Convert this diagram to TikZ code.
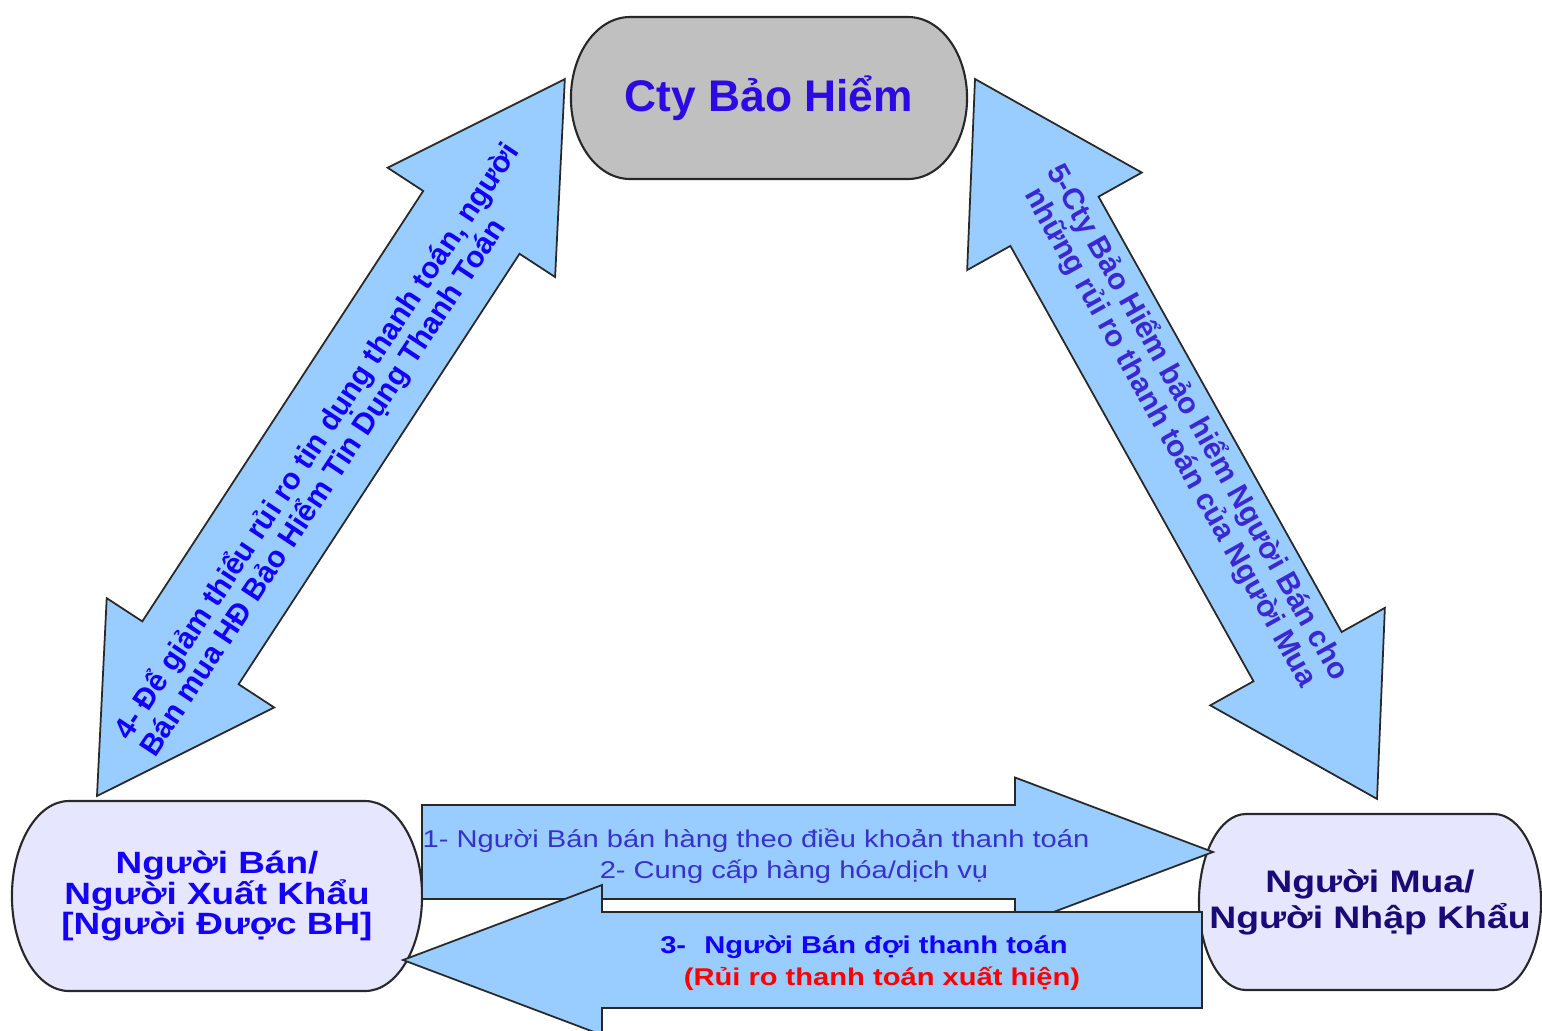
\documentclass[tikz,border=0pt]{standalone}
\usepackage{fontspec}
\setmainfont{Liberation Sans}
\newfontfamily\widesans{Liberation Sans}[FakeStretch=1.2]
\lineskiplimit=-30pt
\definecolor{arrowfill}{RGB}{153,204,255}
\definecolor{edgegray}{RGB}{40,40,40}
\definecolor{insurerfill}{RGB}{192,192,192}
\definecolor{partyfill}{RGB}{230,230,255}
\definecolor{inkviolet}{RGB}{45,10,225}
\definecolor{inkblue}{RGB}{20,0,250}
\definecolor{inknavy}{RGB}{25,10,120}
\definecolor{inkslate}{RGB}{55,50,205}
\definecolor{inkpurple}{RGB}{60,40,210}
\definecolor{inkred}{RGB}{255,0,0}

\begin{document}
\begin{tikzpicture}[x=0.01cm, y=-0.01cm,
	party/.style n args={4}{shape=rectangle, inner sep=0pt, align=center, fill=white, minimum width=#1, minimum height=#2,
		path picture={\draw[draw=edgegray, line width=0.6pt, fill=#4]
			([xshift=#3, yshift=-0.3pt]path picture bounding box.north west)
			-- ([xshift=-#3, yshift=-0.3pt]path picture bounding box.north east)
			arc[start angle=90, end angle=-90, x radius=#3-0.3pt, y radius=0.5*#2-0.3pt]
			-- ([xshift=#3, yshift=0.3pt]path picture bounding box.south west)
			arc[start angle=270, end angle=90, x radius=#3-0.3pt, y radius=0.5*#2-0.3pt]
			-- cycle;}}]
	\tikzstyle{flow} = [draw=edgegray, fill=arrowfill, line width=0.5pt]
	\tikzstyle{slant} = [font=\fontsize{8.5}{8.7}\selectfont\bfseries, align=center, inner sep=0pt]
	\tikzstyle{flat} = [font=\widesans\fontsize{6.9}{8}\selectfont, anchor=base, inner sep=0pt]
	\tikzstyle{flatbold} = [flat, font=\widesans\fontsize{6.9}{8}\selectfont\bfseries]
	\useasboundingbox (0,0) rectangle (1542,1030);
	\clip (0,0) rectangle (1542,1030);
	% the three parties
	\node[party={3.98cm}{1.64cm}{0.6cm}{insurerfill}, text=inkviolet, font=\fontsize{12.6}{15}\selectfont\bfseries] (insurer) at (769,98) {Cty Bảo Hiểm};
	\node[party={4.12cm}{1.92cm}{0.58cm}{partyfill}, text=inkblue, font=\widesans\fontsize{8.75}{8.8}\selectfont\bfseries] (seller) at (217,896) {Người Bán/\\Người Xuất Khẩu\\{}[Người Được BH]};
	\node[party={3.44cm}{1.78cm}{0.48cm}{partyfill}, text=inknavy, font=\widesans\fontsize{8.85}{10.2}\selectfont\bfseries] (buyer) at (1370,902) {Người Mua/\\Người Nhập Khẩu};
	% 4 and 5: slanted double arrows
	\coordinate (coverLow) at (97,796);
	\coordinate (coverTop) at (975,79);
	\begin{scope}[shift={(coverLow)}, rotate=56.87]
		\draw[flow] (0,0) -- (171,100) -- (171,57.5) -- (685,57.5) -- (685,100) -- (856,0) -- (685,-100) -- (685,-57.5) -- (171,-57.5) -- (171,-100) -- cycle;
	\end{scope}
	\begin{scope}[shift={(coverTop)}, rotate=-60.82]
		\draw[flow] (0,0) -- (163,100) -- (163,50.5) -- (661.6,50.5) -- (661.6,100) -- (824.6,0) -- (661.6,-100) -- (661.6,-50.5) -- (163,-50.5) -- (163,-100) -- cycle;
	\end{scope}
	% 1-2 and 3: flat arrows
	\coordinate (goodsTail) at (422,852);
	\coordinate (payTip) at (403,960);
	\begin{scope}[shift={(goodsTail)}]
		\draw[flow] (0,-47) -- (593,-47) -- (593,-74.5) -- (791,0) -- (593,74.5) -- (593,47) -- (0,47) -- cycle;
	\end{scope}
	\begin{scope}[shift={(payTip)}]
		\draw[flow] (0,0) -- (199,-75) -- (199,-48) -- (799,-48) -- (799,48) -- (199,48) -- (199,75) -- cycle;
	\end{scope}
	% texts on the arrows
	\node[slant, align=left, rotate=56.5, text=inkblue] (buyCover) at (330,450) {4- Để giảm thiểu rủi ro tin dụng thanh toán, người\\Bán mua HĐ Bảo Hiểm Tin Dụng Thanh Toán};
	\node[slant, rotate=-60.7, text=inkpurple] (coverRisk) at (1184,430) {5-Cty Bảo Hiểm bảo hiểm Người Bán cho\\những rủi ro thanh toán của Người Mua};
	\node[flat, text=inkslate] (sellTerms) at (756,847) {1- Người Bán bán hàng theo điều khoản thanh toán};
	\node[flat, text=inkslate] (supply) at (794,878) {2- Cung cấp hàng hóa/dịch vụ};
	\node[flatbold, text=inkblue] (waitPay) at (864,953) {3-\hspace{0.75em}Người Bán đợi thanh toán};
	\node[flatbold, text=inkred] (riskNote) at (882,985) {(Rủi ro thanh toán xuất hiện)};
\end{tikzpicture}
\end{document}
